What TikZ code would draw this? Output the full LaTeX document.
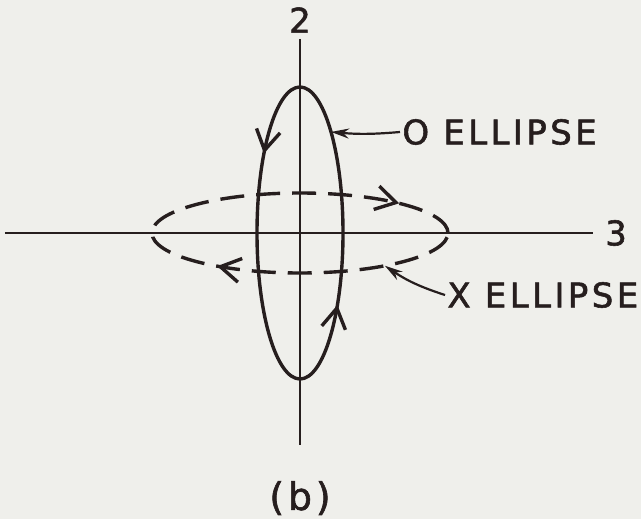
\documentclass[tikz,border=0pt]{standalone}
\usepackage{fontspec}
\setmainfont{DejaVu Sans}[LetterSpace=10, FakeBold=1.6]
\usetikzlibrary{arrows.meta, decorations.markings}
\definecolor{paper}{RGB}{239,239,235}
\definecolor{ink}{RGB}{38,30,30}

\begin{document}
\begin{tikzpicture}[
    x=0.5pt, y=0.5pt,
    >=Stealth,
    every node/.style={font=\fontsize{17}{20}\selectfont, text=ink, inner sep=1pt},
    axis/.style={draw=ink, line width=0.75pt},
    orbit/.style={draw=ink, line width=1.7pt},
    dashorbit/.style={orbit, dash pattern=on 12pt off 6pt},
    leader/.style={-{Stealth[length=9pt,width=5pt]}, draw=ink, line width=1.1pt},
]

% paper
\fill[paper] (-300,233) rectangle (341,-286);

% Axes
\node (ax2) at (0,213)  {2};
\node (ax3) at (316,0)  {3};
\draw[axis] (0,194) -- (0,-212);
\draw[axis, shorten >=5pt] (-295,0) -- (ax3.west);

% O ellipse (counter-clockwise)
\draw[orbit,
      decoration={markings,
        mark=at position 0.375 with {\arrow{Straight Barb[length=10pt,width=12pt]}},
        mark=at position 0.887 with {\arrow{Straight Barb[length=10pt,width=12pt]}}},
      postaction={decorate}]
  (0,0) ellipse [x radius=43, y radius=146];

% X ellipse (clockwise)
\draw[dashorbit,
      decoration={markings,
        mark=at position 0.094 with {\arrowreversed{Straight Barb[length=10pt,width=12pt]}},
        mark=at position 0.62 with {\arrowreversed{Straight Barb[length=10pt,width=12pt]}}},
      postaction={decorate}]
  (0,0) ellipse [x radius=148, y radius=40];

% Labels
\coordinate (otip) at (43.8:43 and 146);
\coordinate (xtip) at (-55:148 and 40);
\node[anchor=west] (olbl) at (100,101) {O ELLIPSE};
\node[anchor=west] (xlbl) at (145,-62) {X ELLIPSE};
\draw[leader] (olbl.west) to[bend left=5] (otip);
\draw[leader] (xlbl.west) to[bend left=8] (xtip);

\node (cap) at (0,-265) {\fontsize{19}{22}\selectfont (b)};

\end{tikzpicture}
\end{document}
